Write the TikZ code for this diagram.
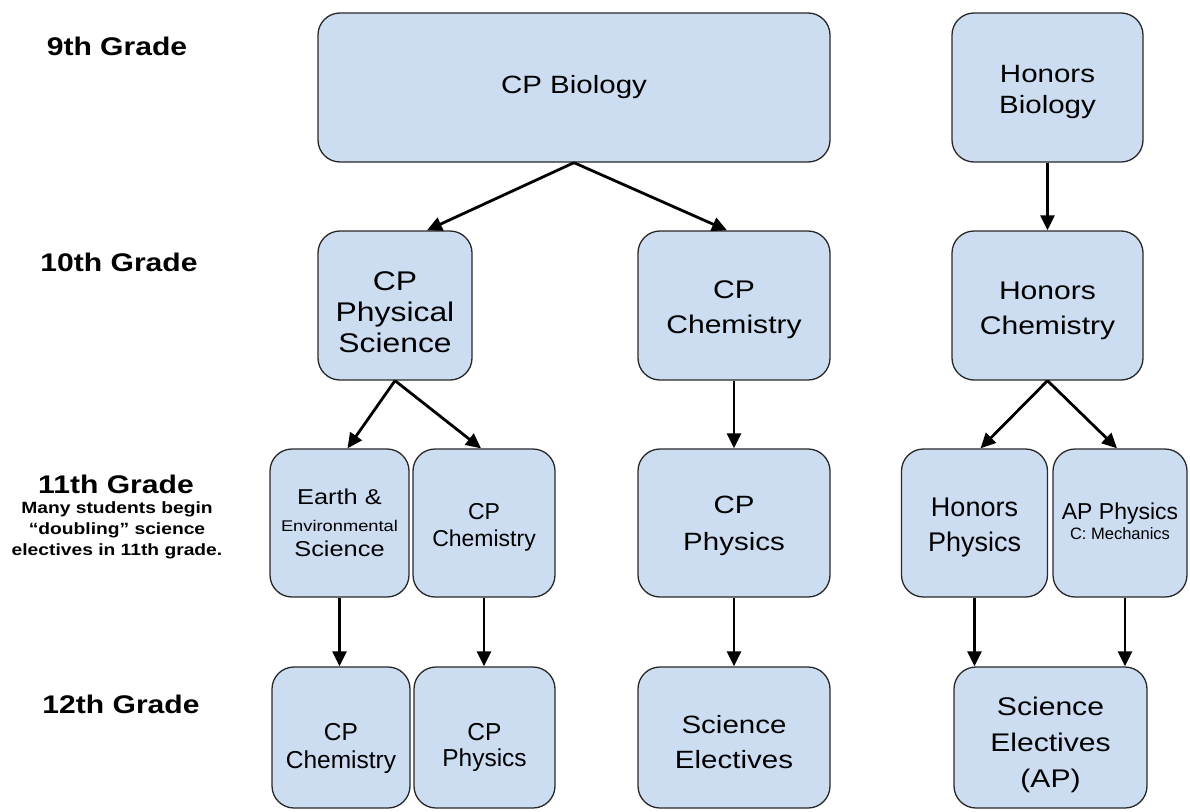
\documentclass[tikz,border=0pt]{standalone}
\usepackage{fontspec}
\setmainfont{Liberation Sans}
\newfontfamily\wide{Liberation Sans}[FakeStretch=1.18]
\usetikzlibrary{arrows.meta}
\definecolor{boxblue}{RGB}{204,221,241}
\definecolor{boxline}{RGB}{40,40,40}
\newcommand{\bx}[1]{\begin{tabular}[t]{@{}c@{}}#1\end{tabular}}
\tikzset{
  box/.style={draw=boxline, fill=boxblue, rounded corners=22pt, line width=1.3pt,
    inner sep=0pt},
  up/.style={text height=0pt, text depth=#1},
  dn/.style={text height=#1, text depth=0pt},
  grade/.style={font=\wide\bfseries\fontsize{25.5}{30}\selectfont, anchor=base, inner sep=0pt},
  note/.style={font=\wide\bfseries\fontsize{16.3}{21}\selectfont, align=center, anchor=north, inner sep=0pt},
  arr/.style={-{Triangle[length=15pt,width=14pt]}, line width=2.8pt, black}
}
\begin{document}
\begin{tikzpicture}[x=1pt,y=-1pt]
\useasboundingbox (0,0) rectangle (1190,811);
\fill[white] (0,0) rectangle (1190,811);
% grade labels
\node[grade] (g9) at (117,55) {9th Grade};
\node[grade] (g10) at (119,271) {10th Grade};
\node[grade] (g11) at (116,493) {11th Grade};
\node[note] (n11) at (117,501) {Many students begin\\“doubling” science\\electives in 11th grade.};
\node[grade] (g12) at (121,713) {12th Grade};
% 9th
\node[box, minimum width=512pt, minimum height=149pt, dn=11pt, font=\wide\fontsize{25}{31}\selectfont] (bio) at (574,87.5) {CP Biology};
\node[box, minimum width=191pt, minimum height=149pt, up=11pt, font=\wide\fontsize{25}{31}\selectfont] (hbio) at (1047.5,87.5) {\bx{Honors\\Biology}};
% 10th
\node[box, minimum width=154pt, minimum height=149pt, up=31pt, font=\wide\fontsize{27}{31}\selectfont] (phys) at (395,305.5) {\bx{CP\\Physical\\Science}};
\node[box, minimum width=192pt, minimum height=149pt, up=15pt, font=\wide\fontsize{25.5}{35}\selectfont] (chem10) at (734,305.5) {\bx{CP\\Chemistry}};
\node[box, minimum width=191pt, minimum height=149pt, up=13pt, font=\wide\fontsize{25.5}{35}\selectfont] (hchem) at (1047.5,305.5) {\bx{Honors\\Chemistry}};
% 11th
\node[box, minimum width=139pt, minimum height=148pt, up=38pt, font=\wide\fontsize{21.5}{25}\selectfont] (earth) at (339.5,523)
  {\bx{Earth \&\\[2pt]{\fontsize{15.5}{18}\selectfont Environmental}\\Science}};
\node[box, minimum width=142pt, minimum height=148pt, up=8pt, font=\fontsize{23}{27}\selectfont] (chem11) at (484,523) {\bx{CP\\Chemistry}};
\node[box, minimum width=192pt, minimum height=148pt, up=20pt, font=\wide\fontsize{25}{37}\selectfont] (phys11) at (734,523) {\bx{CP\\Physics}};
\node[box, minimum width=146pt, minimum height=148pt, up=14pt, font=\fontsize{27}{35}\selectfont] (hphys) at (974.5,523) {\bx{Honors\\Physics}};
\node[box, minimum width=134pt, minimum height=148pt, up=8pt, font=\fontsize{23}{20}\selectfont] (ap) at (1120,523)
  {\bx{AP Physics\\{\fontsize{16.5}{20}\selectfont C: Mechanics}}};
% 12th
\node[box, minimum width=138pt, minimum height=141pt, dn=5pt, font=\fontsize{24.5}{28}\selectfont] (chem12) at (341,737.5) {\bx{CP\\Chemistry}};
\node[box, minimum width=141pt, minimum height=141pt, dn=5pt, font=\fontsize{24.5}{26}\selectfont] (phys12) at (484.5,737.5) {\bx{CP\\Physics}};
\node[box, minimum width=192pt, minimum height=141pt, up=9pt, font=\wide\fontsize{25}{35}\selectfont] (elec) at (734,737.5) {\bx{Science\\Electives}};
\node[box, minimum width=193pt, minimum height=141pt, up=45pt, font=\wide\fontsize{25.5}{36}\selectfont] (elecap) at (1050.5,737.5) {\bx{Science\\Electives\\(AP)}};
% arrows
\draw[arr] (bio.south) -- ([xshift=32pt]phys.north);
\draw[arr] (bio.south) -- ([xshift=-7pt]chem10.north);
\draw[arr] (hbio.south) -- (hchem.north);
\draw[arr] (phys.south) -- ([xshift=8pt]earth.north);
\draw[arr] (phys.south) -- ([xshift=-3pt]chem11.north);
\draw[arr] (chem10.south) -- (phys11.north);
\draw[arr] (hchem.south) -- ([xshift=6pt]hphys.north);
\draw[arr] (hchem.south) -- ([xshift=-3pt]ap.north);
\draw[arr] (earth.south) -- (earth.south |- chem12.north);
\draw[arr] (chem11.south) -- (chem11.south |- phys12.north);
\draw[arr] (phys11.south) -- (elec.north);
\draw[arr] (hphys.south) -- (hphys.south |- elecap.north);
\draw[arr] ([xshift=5pt]ap.south) -- ([xshift=5pt]ap.south |- elecap.north);
\end{tikzpicture}
\end{document}
